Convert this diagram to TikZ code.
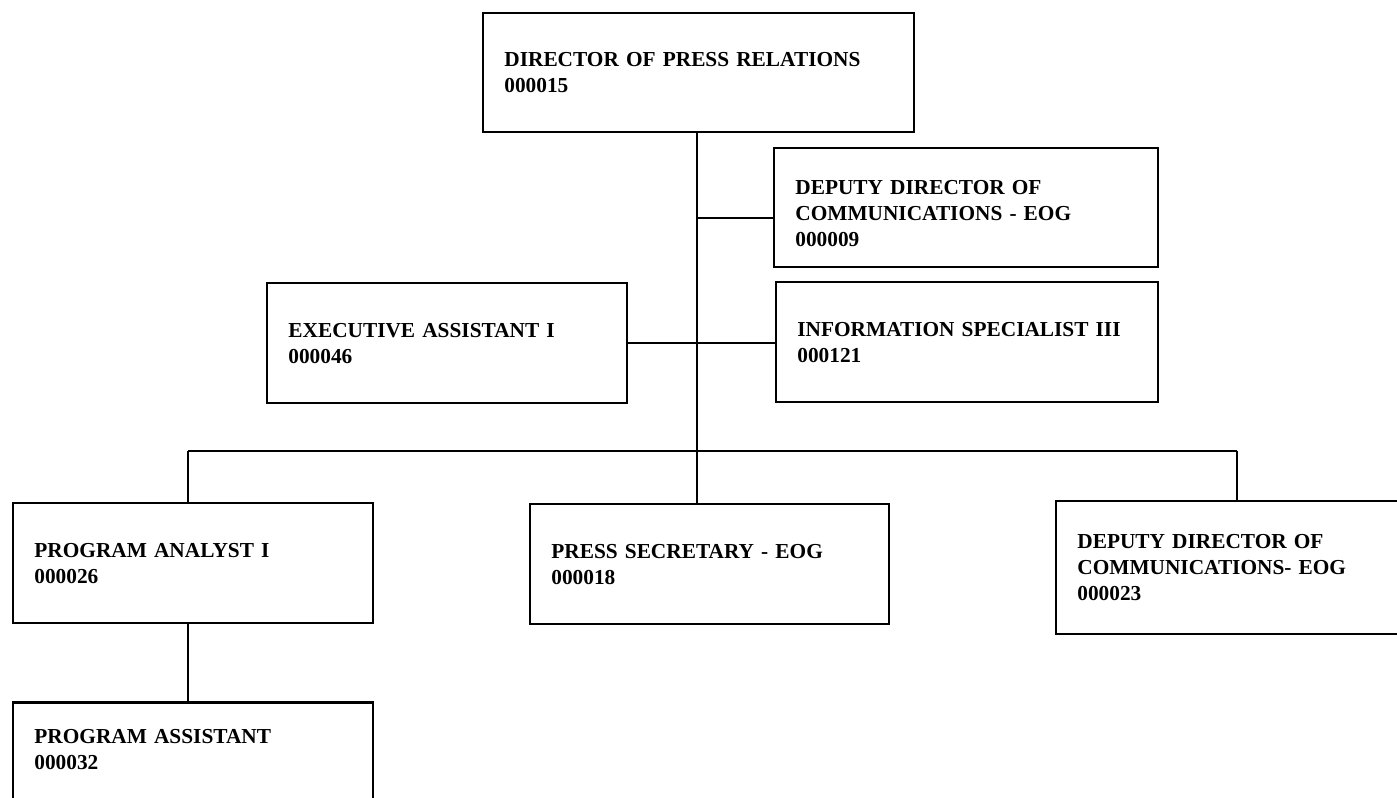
\documentclass[tikz,border=0pt]{standalone}
\usepackage{fontspec}
\setmainfont{Liberation Serif}
\usetikzlibrary{positioning}
\tikzset{
	block/.style = {draw, fill=white, rectangle, line width=1.6pt, anchor=north west, align=left, inner xsep=16pt, font=\fontsize{16}{19.5}\selectfont\bfseries},
	tmp/.style  = {coordinate},
	link/.style = {line width=0.9pt}
}

\begin{document}
\begin{tikzpicture}[x=0.75pt, y=-0.75pt]
	\clip (0,0) rectangle (1397,798);
	% ========================== Nodes ============================
	% Top and staff boxes
	\node [block, text width=291pt, minimum height=89.25pt] (dirpr) at (482,12) {DIRECTOR OF PRESS RELATIONS\\000015};
	\node [block, text width=256pt, minimum height=89.25pt] (ddcomA) at (773,147) {\mbox{}\\DEPUTY DIRECTOR OF\\COMMUNICATIONS - EOG\\000009};
	\node [block, text width=254.5pt, minimum height=90pt] (infospec) at (775,281) {INFORMATION SPECIALIST III\\000121};
	\node [block, text width=238pt, minimum height=90pt] (execasst) at (266,282) {EXECUTIVE ASSISTANT I\\000046};
	
	% Boxes under the bus
	\node [block, text width=238pt, minimum height=90pt] (proganal) at (12,502) {PROGRAM ANALYST I\\000026};
	\node [block, text width=238pt, minimum height=90pt, below=58pt of proganal] (progasst) {PROGRAM ASSISTANT\\000032\\\mbox{}};
	\node [block, text width=237pt, minimum height=90pt] (presssec) at (529,503) {PRESS SECRETARY - EOG\\000018};
	\node [block, text width=238pt, minimum height=99.75pt] (ddcomB) at (1055,500) {DEPUTY DIRECTOR OF\\COMMUNICATIONS- EOG\\000023};
	
	% Points on the lines
	\node [tmp] (tmpdd) at (697,218) {};
	\node [tmp] (tmpbusL) at (188,451) {};
	\node [tmp] (tmpbusR) at (1237,451) {};
	
	% ========================== Lines ============================
	\draw [link] (tmpdd |- dirpr.south) -- (tmpdd |- presssec.north);
	\draw [link] (tmpdd) -- (tmpdd -| ddcomA.west);
	\draw [link] (execasst.east) -- (execasst.east -| infospec.west);
	
	% Bus to the lower row
	\draw [link] (tmpbusL) -- (tmpbusR);
	\draw [link] (tmpbusL) -- (tmpbusL |- proganal.north);
	\draw [link] (tmpbusR) -- (tmpbusR |- ddcomB.north);
	\draw [link] (tmpbusL |- proganal.south) -- (tmpbusL |- progasst.north);
\end{tikzpicture}
\end{document}
